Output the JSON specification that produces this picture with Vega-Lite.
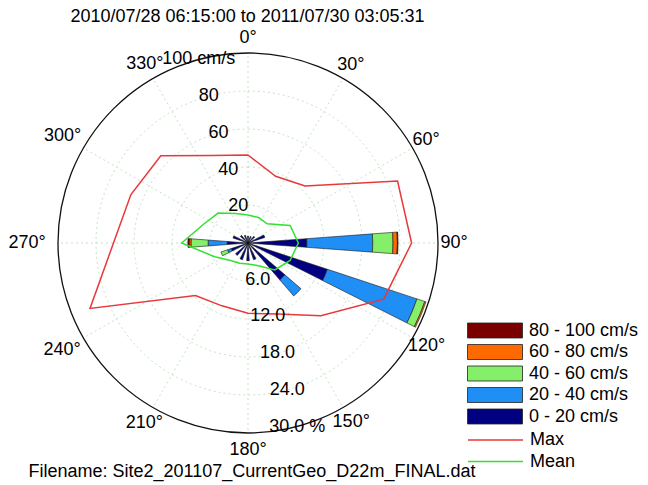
{
  "$schema": "https://vega.github.io/schema/vega-lite/v6.json",
  "width": 380,
  "height": 380,
  "autosize": {"type": "none"},
  "padding": {"left": 58, "top": 53, "right": 210, "bottom": 52},
  "background": "white",
  "config": {
    "view": {"stroke": null},
    "font": "Liberation Sans",
    "text": {"font": "Liberation Sans"},
    "axis": {"domain": false, "ticks": false, "labels": false, "grid": false,
      "titleFontSize": 18, "titleFontWeight": "normal", "titleColor": "black", "titleFont": "Liberation Sans"},
    "axisX": {"titleX": -30, "titleY": 38.5, "titleAlign": "left", "titleBaseline": "middle"},
    "axisY": {"titleX": 189, "titleY": -37, "titleAngle": 0, "titleAlign": "center", "titleBaseline": "middle"}
  },
  "datasets": {
    "bars": [
      {"dir": 0, "cls": "0 - 20 cm/s", "pct": 1.1},
      {"dir": 22.5, "cls": "0 - 20 cm/s", "pct": 1.1},
      {"dir": 45, "cls": "0 - 20 cm/s", "pct": 1.4},
      {"dir": 67.5, "cls": "0 - 20 cm/s", "pct": 2.8},
      {"dir": 90, "cls": "0 - 20 cm/s", "pct": 9.3},
      {"dir": 90, "cls": "20 - 40 cm/s", "pct": 10.4},
      {"dir": 90, "cls": "40 - 60 cm/s", "pct": 3.2},
      {"dir": 90, "cls": "60 - 80 cm/s", "pct": 0.7},
      {"dir": 90, "cls": "80 - 100 cm/s", "pct": 0.1},
      {"dir": 112.5, "cls": "0 - 20 cm/s", "pct": 13.2},
      {"dir": 112.5, "cls": "20 - 40 cm/s", "pct": 14.9},
      {"dir": 112.5, "cls": "40 - 60 cm/s", "pct": 1.3},
      {"dir": 112.5, "cls": "60 - 80 cm/s", "pct": 0.2},
      {"dir": 135, "cls": "0 - 20 cm/s", "pct": 7.7},
      {"dir": 135, "cls": "20 - 40 cm/s", "pct": 3.35},
      {"dir": 157.5, "cls": "0 - 20 cm/s", "pct": 2.8},
      {"dir": 180, "cls": "0 - 20 cm/s", "pct": 2.8},
      {"dir": 202.5, "cls": "0 - 20 cm/s", "pct": 2.8},
      {"dir": 225, "cls": "0 - 20 cm/s", "pct": 2.6},
      {"dir": 247.5, "cls": "0 - 20 cm/s", "pct": 2.8},
      {"dir": 247.5, "cls": "20 - 40 cm/s", "pct": 0.6},
      {"dir": 247.5, "cls": "40 - 60 cm/s", "pct": 1.1},
      {"dir": 270, "cls": "0 - 20 cm/s", "pct": 3.3},
      {"dir": 270, "cls": "20 - 40 cm/s", "pct": 3.0},
      {"dir": 270, "cls": "40 - 60 cm/s", "pct": 2.7},
      {"dir": 270, "cls": "60 - 80 cm/s", "pct": 0.3},
      {"dir": 270, "cls": "80 - 100 cm/s", "pct": 0.2},
      {"dir": 292.5, "cls": "0 - 20 cm/s", "pct": 2.5},
      {"dir": 315, "cls": "0 - 20 cm/s", "pct": 1.6},
      {"dir": 337.5, "cls": "0 - 20 cm/s", "pct": 1.3}
    ],
    "maxmean": [
      {"series": "Max", "dir": 0, "speed": 46.3},
      {"series": "Max", "dir": 22.5, "speed": 38},
      {"series": "Max", "dir": 45, "speed": 42.5},
      {"series": "Max", "dir": 67.5, "speed": 85.2},
      {"series": "Max", "dir": 90, "speed": 86.1},
      {"series": "Max", "dir": 112.5, "speed": 77.3},
      {"series": "Max", "dir": 135, "speed": 54.2},
      {"series": "Max", "dir": 157.5, "speed": 40.5},
      {"series": "Max", "dir": 180, "speed": 37},
      {"series": "Max", "dir": 202.5, "speed": 35.8},
      {"series": "Max", "dir": 225, "speed": 39.1},
      {"series": "Max", "dir": 247.5, "speed": 90},
      {"series": "Max", "dir": 270, "speed": 70.8},
      {"series": "Max", "dir": 292.5, "speed": 66.7},
      {"series": "Max", "dir": 315, "speed": 64.9},
      {"series": "Max", "dir": 337.5, "speed": 49.8},
      {"series": "Mean", "dir": 0, "speed": 14.7},
      {"series": "Mean", "dir": 22.5, "speed": 14.5},
      {"series": "Mean", "dir": 45, "speed": 14.3},
      {"series": "Mean", "dir": 67.5, "speed": 24},
      {"series": "Mean", "dir": 90, "speed": 26.5},
      {"series": "Mean", "dir": 112.5, "speed": 24},
      {"series": "Mean", "dir": 135, "speed": 20},
      {"series": "Mean", "dir": 157.5, "speed": 12.8},
      {"series": "Mean", "dir": 180, "speed": 11},
      {"series": "Mean", "dir": 202.5, "speed": 11.5},
      {"series": "Mean", "dir": 225, "speed": 13},
      {"series": "Mean", "dir": 247.5, "speed": 19},
      {"series": "Mean", "dir": 270, "speed": 34.9},
      {"series": "Mean", "dir": 292.5, "speed": 25.5},
      {"series": "Mean", "dir": 315, "speed": 22.3},
      {"series": "Mean", "dir": 337.5, "speed": 16.8}
    ],
    "rings": [{"pct": 6}, {"pct": 12}, {"pct": 18}, {"pct": 24}],
    "outer": [{"pct": 30}],
    "spokes": [
      {"dir": 0}, {"dir": 30}, {"dir": 60}, {"dir": 90}, {"dir": 120}, {"dir": 150},
      {"dir": 180}, {"dir": 210}, {"dir": 240}, {"dir": 270}, {"dir": 300}, {"dir": 330}
    ],
    "angleLabels": [
      {"angle": 0, "label": "0°"}, {"angle": 30, "label": "30°"}, {"angle": 60, "label": "60°"},
      {"angle": 90, "label": "90°"}, {"angle": 120, "label": "120°"}, {"angle": 150, "label": "150°"},
      {"angle": 180, "label": "180°"}, {"angle": 210, "label": "210°"}, {"angle": 240, "label": "240°"},
      {"angle": 270, "label": "270°"}, {"angle": 300, "label": "300°"}, {"angle": 330, "label": "330°"}
    ],
    "speedLabels": [
      {"speed": 20, "label": "20"}, {"speed": 40, "label": "40"}, {"speed": 60, "label": "60"},
      {"speed": 80, "label": "80"}, {"speed": 100, "label": "100 cm/s"}
    ],
    "pctLabels": [
      {"pct": 6, "label": "6.0"}, {"pct": 12, "label": "12.0"}, {"pct": 18, "label": "18.0"},
      {"pct": 24, "label": "24.0"}, {"pct": 30, "label": "30.0 %"}
    ]
  },
  "layer": [
    {
      "data": {"name": "rings"},
      "transform": [{"calculate": "0", "as": "t0"}, {"calculate": "360", "as": "t1"}],
      "mark": {"type": "arc", "filled": false, "stroke": "#b4dcb4", "strokeWidth": 0.8, "strokeDash": [2, 3]},
      "encoding": {
        "theta": {"field": "t0", "type": "quantitative", "stack": null, "scale": {"domain": [0, 360], "range": [0, 6.283185307179586]}},
        "theta2": {"field": "t1"},
        "radius": {"field": "pct", "type": "quantitative", "stack": null, "scale": {"type": "linear", "domain": [0, 30], "range": [0, 190], "zero": true}}
      }
    },
    {
      "data": {"name": "spokes"},
      "transform": [
        {"calculate": "0", "as": "cx"},
        {"calculate": "0", "as": "cy"},
        {"calculate": "100*sin(datum.dir*PI/180)", "as": "ex"},
        {"calculate": "100*cos(datum.dir*PI/180)", "as": "ey"}
      ],
      "mark": {"type": "rule", "stroke": "#b4dcb4", "strokeWidth": 0.8, "strokeDash": [2, 3]},
      "encoding": {
        "x": {"field": "cx", "type": "quantitative", "scale": {"domain": [-100, 100], "nice": false, "zero": false},
          "axis": {"title": "Filename: Site2_201107_CurrentGeo_D22m_FINAL.dat"}},
        "y": {"field": "cy", "type": "quantitative", "scale": {"domain": [-100, 100], "nice": false, "zero": false},
          "axis": {"title": "2010/07/28 06:15:00 to 2011/07/30 03:05:31"}},
        "x2": {"field": "ex"},
        "y2": {"field": "ey"}
      }
    },
    {
      "data": {"name": "outer"},
      "transform": [{"calculate": "0", "as": "t0"}, {"calculate": "360", "as": "t1"}],
      "mark": {"type": "arc", "filled": false, "stroke": "#111111", "strokeWidth": 1.3},
      "encoding": {
        "theta": {"field": "t0", "type": "quantitative", "stack": null, "scale": {"domain": [0, 360], "range": [0, 6.283185307179586]}},
        "theta2": {"field": "t1"},
        "radius": {"field": "pct", "type": "quantitative", "stack": null, "scale": {"type": "linear", "domain": [0, 30], "range": [0, 190], "zero": true}}
      }
    },
    {
      "data": {"name": "bars"},
      "transform": [
        {"stack": "pct", "groupby": ["dir"], "sort": [{"field": "cls", "order": "ascending"}], "as": ["r0", "r1"]},
        {"calculate": "datum.dir - 4.2", "as": "t0"},
        {"calculate": "datum.dir + 4.2", "as": "t1"}
      ],
      "mark": {"type": "arc", "stroke": "#1a1a1a", "strokeWidth": 0.6},
      "encoding": {
        "theta": {"field": "t0", "type": "quantitative", "stack": null, "scale": {"domain": [0, 360], "range": [0, 6.283185307179586]}},
        "theta2": {"field": "t1"},
        "radius": {"field": "r1", "type": "quantitative", "stack": null, "scale": {"type": "linear", "domain": [0, 30], "range": [0, 190], "zero": true}},
        "radius2": {"field": "r0"},
        "fill": {
          "field": "cls", "type": "nominal",
          "scale": {
            "domain": ["80 - 100 cm/s", "60 - 80 cm/s", "40 - 60 cm/s", "20 - 40 cm/s", "0 - 20 cm/s"],
            "range": ["#7a0000", "#ff6a00", "#86ef6a", "#1f8ef5", "#000080"]
          },
          "legend": {
            "title": null, "orient": "none", "legendX": 409, "legendY": 268.5, "padding": 0,
            "symbolType": "M-1,-0.2727H1V0.2727H-1Z", "symbolSize": 3025,
            "symbolStrokeColor": "#222222", "symbolStrokeWidth": 0.8, "symbolOpacity": 1,
            "labelFontSize": 18, "labelFont": "Liberation Sans", "labelColor": "black",
            "labelOffset": 6, "rowPadding": 3.5, "clipHeight": 18
          }
        }
      }
    },
    {
      "data": {"name": "maxmean"},
      "transform": [
        {"calculate": "datum.speed*sin(datum.dir*PI/180)", "as": "x"},
        {"calculate": "datum.speed*cos(datum.dir*PI/180)", "as": "y"}
      ],
      "mark": {"type": "line", "interpolate": "linear-closed", "strokeWidth": 1.5},
      "encoding": {
        "x": {"field": "x", "type": "quantitative", "scale": {"domain": [-100, 100], "nice": false, "zero": false},
          "axis": {"title": "Filename: Site2_201107_CurrentGeo_D22m_FINAL.dat"}},
        "y": {"field": "y", "type": "quantitative", "scale": {"domain": [-100, 100], "nice": false, "zero": false},
          "axis": {"title": "2010/07/28 06:15:00 to 2011/07/30 03:05:31"}},
        "order": {"field": "dir", "type": "quantitative"},
        "stroke": {
          "field": "series", "type": "nominal",
          "scale": {"domain": ["Max", "Mean"], "range": ["#e8383a", "#33e033"]},
          "legend": {
            "title": null, "orient": "none", "legendX": 409, "legendY": 378, "padding": 0,
            "symbolType": "stroke", "symbolSize": 3025, "symbolStrokeWidth": 1.5,
            "labelFontSize": 18, "labelFont": "Liberation Sans", "labelColor": "black",
            "labelOffset": 6, "rowPadding": 3.5, "clipHeight": 18
          }
        }
      }
    },
    {
      "data": {"name": "angleLabels"},
      "transform": [
        {"calculate": "(205.5 + 0.5*(1-cos(datum.angle*PI/180)) + (datum.angle > 180 ? 15*pow(sin(datum.angle*PI/180),4) : 0)) * 30 / 190", "as": "rr"}
      ],
      "mark": {"type": "text", "fontSize": 18, "font": "Liberation Sans", "color": "black", "align": "center", "baseline": "middle"},
      "encoding": {
        "theta": {"field": "angle", "type": "quantitative", "stack": null, "scale": {"domain": [0, 360], "range": [0, 6.283185307179586]}},
        "radius": {"field": "rr", "type": "quantitative", "stack": null, "scale": {"type": "linear", "domain": [0, 30], "range": [0, 190], "zero": true}},
        "text": {"field": "label"}
      }
    },
    {
      "data": {"name": "speedLabels"},
      "transform": [{"calculate": "345", "as": "ang"}],
      "mark": {"type": "text", "fontSize": 18, "font": "Liberation Sans", "color": "black", "align": "center", "baseline": "middle"},
      "encoding": {
        "theta": {"field": "ang", "type": "quantitative", "stack": null, "scale": {"domain": [0, 360], "range": [0, 6.283185307179586]}},
        "radius": {"field": "speed", "type": "quantitative", "stack": null, "scale": {"type": "linear", "domain": [0, 100], "range": [0, 190], "zero": true}},
        "text": {"field": "label"}
      }
    },
    {
      "data": {"name": "pctLabels"},
      "transform": [{"calculate": "165", "as": "ang"}],
      "mark": {"type": "text", "fontSize": 18, "font": "Liberation Sans", "color": "black", "align": "center", "baseline": "middle"},
      "encoding": {
        "theta": {"field": "ang", "type": "quantitative", "stack": null, "scale": {"domain": [0, 360], "range": [0, 6.283185307179586]}},
        "radius": {"field": "pct", "type": "quantitative", "stack": null, "scale": {"type": "linear", "domain": [0, 30], "range": [0, 190], "zero": true}},
        "text": {"field": "label"}
      }
    }
  ],
  "resolve": {"scale": {"radius": "independent"}}
}
